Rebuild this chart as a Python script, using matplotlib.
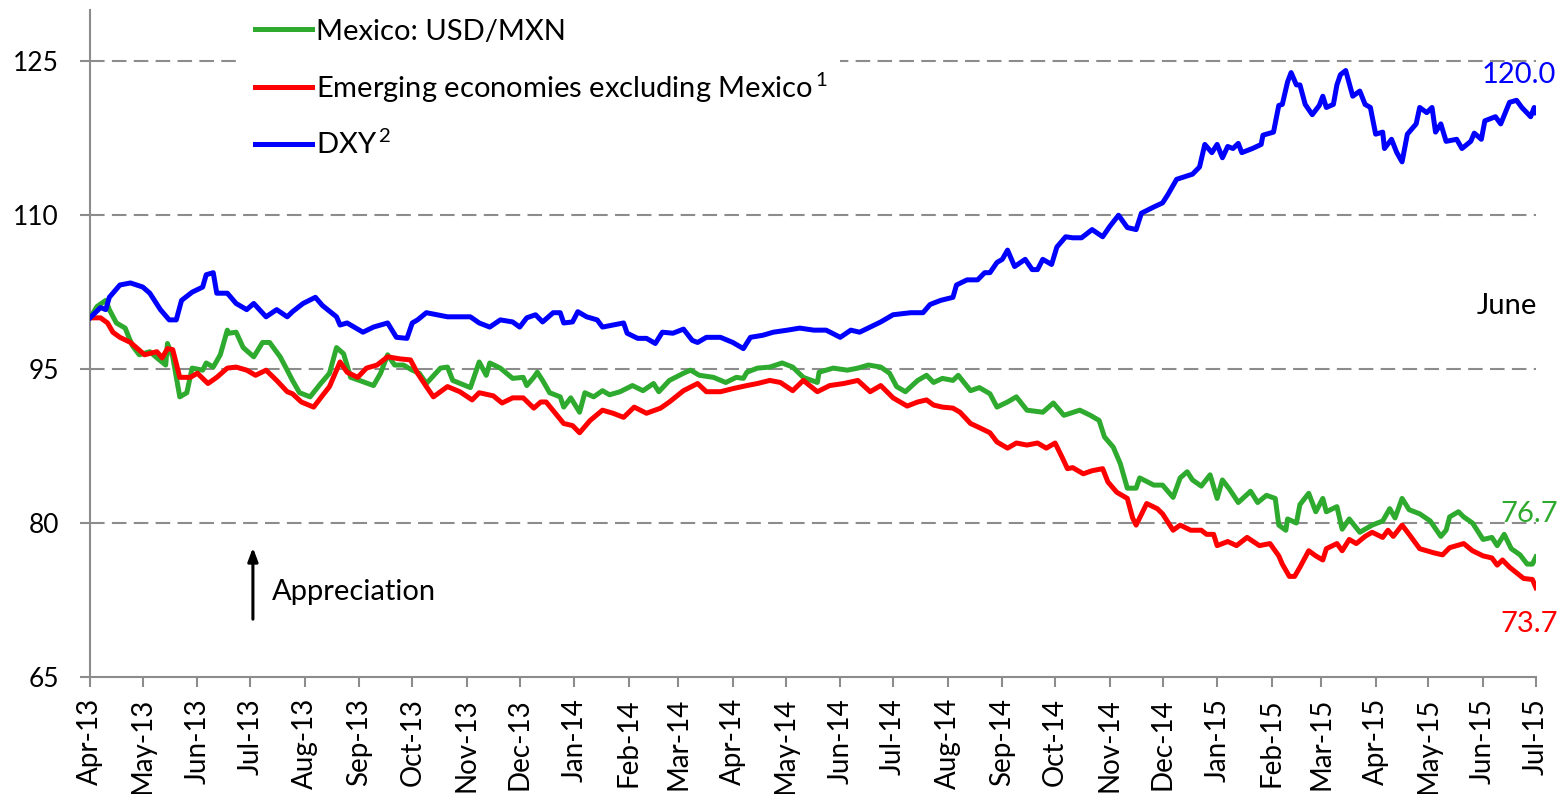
import matplotlib
matplotlib.use("Agg")
import matplotlib.pyplot as plt
import matplotlib.dates as mdates
import pandas as pd

plt.rcParams['font.family'] = ['Lato', 'DejaVu Sans']
plt.rcParams['mathtext.default'] = 'regular'

START = pd.Timestamp('2013-04-01')
END = pd.Timestamp('2015-07-01')

# index values (start = 100), x given as days since 1 Apr 2013
dxy_days = [0, 6, 9, 11, 17, 23, 30, 34, 40, 45, 49, 52, 58, 64, 66, 70, 72, 78, 83, 89,
            93, 100, 106, 112, 115, 121, 128, 132, 140, 142, 146, 155, 161, 169, 174, 180,
            183, 186, 191, 203, 208, 216, 221, 227, 233, 240, 244, 248, 253, 257, 263, 267,
            269, 274, 277, 282, 288, 291, 297, 303, 305, 311, 316, 321, 325, 331, 337, 342,
            345, 350, 358, 365, 371, 375, 382, 388, 396, 403, 411, 418, 426, 432, 437, 443,
            449, 456, 466, 473, 477, 483, 490, 492, 498, 504, 508, 511, 515, 518, 521, 525,
            531, 535, 538, 541, 546, 549, 554, 558, 563, 569, 575, 579, 584, 589, 594, 597,
            604, 609, 612, 617, 626, 630, 633, 637, 640, 643, 646, 649, 652, 654, 660, 665,
            666, 672, 675, 677, 680, 682, 685, 687, 690, 694, 698, 700, 702, 706, 708, 710,
            713, 717, 721, 724, 727, 730, 734, 735, 739, 742, 745, 748, 753, 755, 759, 762,
            764, 767, 770, 776, 779, 784, 786, 790, 792, 798, 801, 806, 810, 813, 818, 820, 821]
dxy_vals = [100.0, 101.0, 100.8, 102.0, 103.2, 103.4, 103.0, 102.4, 100.8, 99.8, 99.8, 101.7,
            102.5, 103.0, 104.2, 104.4, 102.4, 102.4, 101.4, 100.8, 101.4, 100.1, 100.8, 100.1,
            100.6, 101.4, 102.0, 101.2, 100.1, 99.3, 99.5, 98.6, 99.1, 99.5, 98.1, 98.0, 99.5,
            99.8, 100.5, 100.1, 100.1, 100.1, 99.5, 99.1, 99.8, 99.6, 99.1, 100.0, 100.3, 99.6,
            100.5, 100.5, 99.5, 99.6, 100.6, 100.1, 99.8, 99.1, 99.3, 99.5, 98.5, 98.0, 98.0,
            97.5, 98.6, 98.5, 98.9, 97.8, 97.6, 98.1, 98.1, 97.6, 97.0, 98.1, 98.3, 98.6, 98.8,
            99.0, 98.8, 98.8, 98.1, 98.8, 98.6, 99.1, 99.6, 100.3, 100.5, 100.5, 101.3, 101.7,
            102.0, 103.2, 103.7, 103.7, 104.4, 104.4, 105.4, 105.7, 106.6, 105.0, 105.7, 104.7,
            104.7, 105.7, 105.2, 106.9, 107.9, 107.8, 107.8, 108.6, 107.9, 108.9, 110.0, 108.8,
            108.6, 110.2, 110.8, 111.2, 112.0, 113.5, 114.0, 114.7, 116.9, 116.1, 116.9, 115.6,
            116.7, 116.5, 117.0, 116.1, 116.5, 116.9, 117.8, 118.1, 120.7, 120.8, 123.0, 123.9,
            122.7, 122.7, 120.8, 119.8, 120.7, 121.6, 120.5, 120.8, 122.7, 123.7, 124.1, 121.6,
            122.1, 120.8, 120.5, 117.9, 118.1, 116.5, 117.4, 116.1, 115.2, 117.9, 118.9, 120.5,
            120.0, 120.5, 118.1, 118.9, 117.2, 117.4, 116.5, 117.2, 118.0, 117.4, 119.2, 119.6,
            118.9, 121.0, 121.2, 120.5, 119.6, 120.5, 120.0]

mxn_days = [0, 4, 9, 11, 15, 20, 24, 28, 34, 38, 43, 44, 47, 51, 55, 58, 64, 66, 70, 74, 78,
            79, 83, 87, 93, 98, 102, 108, 112, 115, 119, 125, 131, 136, 140, 144, 148, 153,
            161, 165, 169, 173, 178, 183, 187, 191, 199, 203, 206, 216, 221, 225, 227, 233,
            240, 246, 248, 252, 254, 257, 261, 267, 269, 273, 278, 281, 286, 291, 295, 301,
            308, 314, 320, 323, 329, 337, 341, 346, 354, 361, 367, 371, 373, 379, 386, 393,
            399, 405, 413, 414, 422, 430, 436, 442, 449, 454, 458, 463, 470, 475, 479, 484,
            490, 493, 500, 505, 511, 515, 521, 526, 532, 541, 547, 553, 562, 568, 573, 576,
            581, 585, 589, 594, 596, 604, 609, 615, 619, 623, 626, 631, 636, 640, 643, 647,
            652, 659, 663, 668, 673, 675, 679, 680, 685, 687, 692, 696, 700, 702, 708, 711,
            715, 721, 728, 734, 738, 741, 745, 749, 755, 761, 767, 770, 772, 777, 780, 785,
            791, 796, 799, 803, 807, 812, 816, 819, 821]
mxn_vals = [100.0, 101.1, 101.7, 100.8, 99.5, 99.0, 97.3, 96.4, 96.7, 96.1, 95.4, 97.5, 96.2,
            92.3, 92.7, 95.1, 94.9, 95.6, 95.2, 96.4, 98.8, 98.5, 98.6, 97.1, 96.2, 97.6, 97.6,
            96.2, 94.9, 93.9, 92.7, 92.3, 93.6, 94.6, 97.1, 96.5, 94.2, 93.9, 93.4, 94.6, 96.4,
            95.4, 95.4, 94.9, 94.6, 93.6, 95.1, 95.2, 93.9, 93.2, 95.7, 94.4, 95.6, 95.1, 94.1,
            94.2, 93.4, 94.2, 94.7, 93.9, 92.7, 92.3, 91.3, 92.2, 90.8, 92.7, 92.3, 92.9, 92.5,
            92.8, 93.4, 92.9, 93.6, 92.8, 93.9, 94.6, 94.9, 94.4, 94.2, 93.7, 94.2, 94.1, 94.7,
            95.1, 95.2, 95.6, 95.2, 94.2, 93.7, 94.7, 95.1, 94.9, 95.1, 95.4, 95.2, 94.6, 93.3,
            92.8, 93.9, 94.4, 93.7, 94.1, 93.9, 94.4, 92.9, 93.2, 92.6, 91.3, 91.8, 92.3, 91.0,
            90.8, 91.7, 90.5, 91.0, 90.5, 90.0, 88.4, 87.4, 85.8, 83.4, 83.4, 84.4, 83.7, 83.7,
            82.5, 84.4, 85.0, 84.2, 83.6, 84.7, 82.4, 84.2, 83.3, 82.0, 83.1, 82.0, 82.7, 82.4,
            79.8, 79.3, 80.4, 80.0, 81.8, 82.9, 81.1, 82.4, 81.1, 81.6, 79.4, 80.4, 79.1, 79.8,
            80.2, 81.4, 80.5, 82.4, 81.3, 80.9, 80.2, 78.7, 79.3, 80.6, 81.1, 80.6, 80.0, 78.4,
            78.6, 77.8, 78.9, 77.5, 76.9, 76.0, 76.0, 76.7]

em_days = [0, 6, 10, 13, 17, 23, 27, 31, 38, 41, 44, 47, 51, 57, 61, 67, 72, 78, 83, 89, 94,
           100, 106, 112, 115, 120, 127, 131, 136, 142, 146, 152, 157, 163, 169, 176, 182,
           186, 191, 195, 203, 210, 217, 221, 229, 234, 240, 246, 252, 256, 259, 269, 274,
           278, 284, 291, 297, 303, 309, 316, 324, 329, 337, 345, 350, 358, 365, 373, 379,
           386, 392, 399, 405, 413, 420, 428, 436, 443, 449, 456, 464, 470, 475, 479, 484,
           490, 494, 500, 505, 511, 515, 521, 526, 532, 538, 543, 548, 552, 555, 558, 564,
           569, 575, 578, 583, 589, 592, 594, 600, 606, 609, 615, 619, 625, 631, 634, 638,
           640, 646, 651, 657, 664, 670, 675, 677, 681, 684, 687, 692, 696, 700, 702, 708,
           711, 715, 719, 724, 728, 734, 737, 740, 745, 749, 755, 763, 768, 772, 780, 785,
           791, 796, 799, 802, 806, 814, 819, 821]
em_vals = [100.0, 100.0, 99.5, 98.6, 98.1, 97.6, 97.0, 96.4, 96.7, 96.1, 97.0, 96.9, 94.2,
           94.2, 94.6, 93.6, 94.2, 95.1, 95.2, 94.9, 94.4, 94.9, 93.9, 92.8, 92.6, 91.8, 91.3,
           92.2, 93.3, 95.7, 94.7, 94.2, 95.1, 95.4, 96.2, 96.0, 95.9, 94.6, 93.3, 92.3, 93.3,
           92.8, 92.0, 92.7, 92.4, 91.7, 92.2, 92.2, 91.2, 91.8, 91.8, 89.7, 89.5, 88.8, 90.0,
           91.0, 90.7, 90.3, 91.3, 90.7, 91.2, 91.8, 92.9, 93.6, 92.8, 92.8, 93.1, 93.4, 93.6,
           93.9, 93.7, 92.9, 93.9, 92.8, 93.4, 93.6, 93.9, 92.8, 93.4, 92.2, 91.4, 91.8, 92.0,
           91.5, 91.3, 91.2, 90.8, 89.7, 89.3, 88.8, 87.9, 87.3, 87.8, 87.6, 87.8, 87.3, 87.8,
           86.4, 85.3, 85.4, 84.8, 85.1, 85.3, 84.0, 83.0, 82.4, 80.5, 79.8, 81.9, 81.4, 80.9,
           79.3, 79.8, 79.3, 79.3, 78.9, 78.9, 77.8, 78.2, 77.8, 78.6, 77.8, 78.0, 76.8, 76.0,
           74.8, 74.8, 75.7, 77.3, 76.8, 76.4, 77.5, 78.0, 77.3, 78.4, 78.0, 78.7, 79.1, 78.6,
           79.3, 78.7, 79.8, 78.9, 77.5, 77.1, 76.9, 77.6, 78.0, 77.3, 76.8, 76.6, 75.9, 76.4,
           75.7, 74.6, 74.5, 73.7]

series = [
    ('Mexico: USD/MXN', mxn_days, mxn_vals, '#2EAA2E'),
    ('Emerging economies excluding Mexico$^{\\,1}$', em_days, em_vals, '#FF0000'),
    ('DXY$^{\\,2}$', dxy_days, dxy_vals, '#0000FF'),
]

FS = 21

fig = plt.figure(figsize=(15.59, 7.94), dpi=100)
ax = fig.add_axes([0.0577, 0.1474, 0.9275, 0.8400])

for label, days, vals, color in series:
    dates = START + pd.to_timedelta(days, unit='D')
    ax.plot(dates, vals, color=color, lw=3.6, label=label, solid_joinstyle='round', zorder=3)

ax.set_xlim(START, END)
ax.set_ylim(65, 130)
ax.set_yticks([65, 80, 95, 110, 125])
for v in [80, 95, 110, 125]:
    ax.axhline(v, color='#8C8C8C', lw=1.5, linestyle=(0, (7, 3.5)), zorder=1)

ax.xaxis.set_major_locator(mdates.MonthLocator())
ax.xaxis.set_major_formatter(mdates.DateFormatter('%b-%y'))
ax.tick_params(axis='x', rotation=90, labelsize=20, length=7.2, width=1.5, color='#8C8C8C', pad=8)
ax.tick_params(axis='y', labelsize=19, length=7.2, width=1.5, color='#8C8C8C', pad=15)
for s in ['top', 'right']:
    ax.spines[s].set_visible(False)
for s in ['left', 'bottom']:
    ax.spines[s].set_color('#8C8C8C')
    ax.spines[s].set_linewidth(1.5)

leg = ax.legend(loc='upper left', bbox_to_anchor=(0.106, 1.0045), fontsize=FS,
                frameon=True, facecolor='white', edgecolor='none', framealpha=1,
                handlelength=1.95, handletextpad=0.14, labelspacing=0.88, borderaxespad=0)
leg.set_zorder(5)

# end-of-period values
ax.annotate('120.0', xy=(END, dxy_vals[-1]), xytext=(-12, 27), textcoords='offset points',
            ha='center', va='center', fontsize=FS, color='#0000FF', annotation_clip=False)
ax.annotate('76.7', xy=(END, mxn_vals[-1]), xytext=(-5, 31), textcoords='offset points',
            ha='center', va='center', fontsize=FS, color='#2EAA2E', annotation_clip=False)
ax.annotate('73.7', xy=(END, em_vals[-1]), xytext=(-5, -26), textcoords='offset points',
            ha='center', va='center', fontsize=FS, color='#FF0000', annotation_clip=False)
ax.text(0.98, 0.556, 'June', transform=ax.transAxes, ha='center', va='center', fontsize=FS)

ax.annotate('', xy=(0.1127, 0.198), xytext=(0.1127, 0.0825), xycoords='axes fraction',
            arrowprops=dict(arrowstyle='-|>,head_length=0.8,head_width=0.3', color='black', lw=2.2))
ax.text(0.126, 0.127, 'Appreciation', transform=ax.transAxes, ha='left', va='center', fontsize=FS)

fig.savefig('out.png', dpi=100, facecolor='white')
